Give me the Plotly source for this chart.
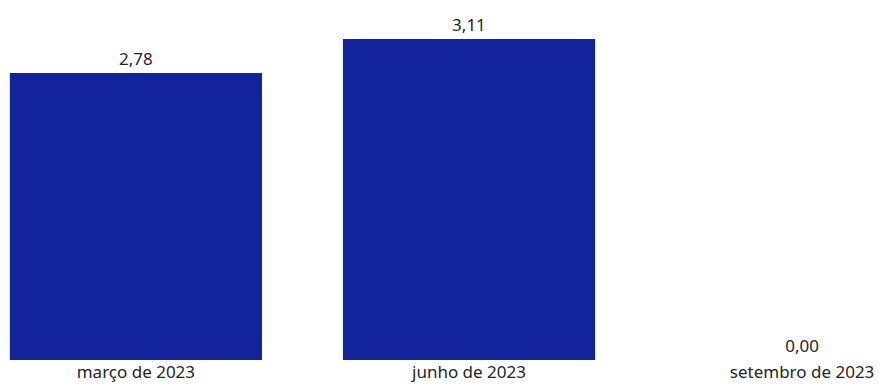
import plotly.graph_objects as go

categories = ["março de 2023", "junho de 2023", "setembro de 2023"]
values = [2.78, 3.11, 0.00]

FONT = "Noto Sans, Open Sans, sans-serif"

fig = go.Figure(go.Bar(
    x=categories, y=values,
    marker=dict(color="#13239B", line=dict(width=0)),
    texttemplate="%{y:.2f}", textposition="outside", cliponaxis=False,
    textfont=dict(family=FONT, size=17, color="#252423"),
))
fig.update_layout(
    width=877, height=378,
    margin=dict(l=0, r=0, t=0, b=26),
    paper_bgcolor="white", plot_bgcolor="white",
    separators=", ",
    bargap=0.243,
    showlegend=False,
    xaxis=dict(range=[-0.384, 2.249], showgrid=False, zeroline=False, showline=False,
               ticks="", automargin=False,
               tickfont=dict(family=FONT, size=17, color="#252423")),
    yaxis=dict(range=[0, 3.411], visible=False, showgrid=False, zeroline=False),
)
fig.write_html("out.html")
